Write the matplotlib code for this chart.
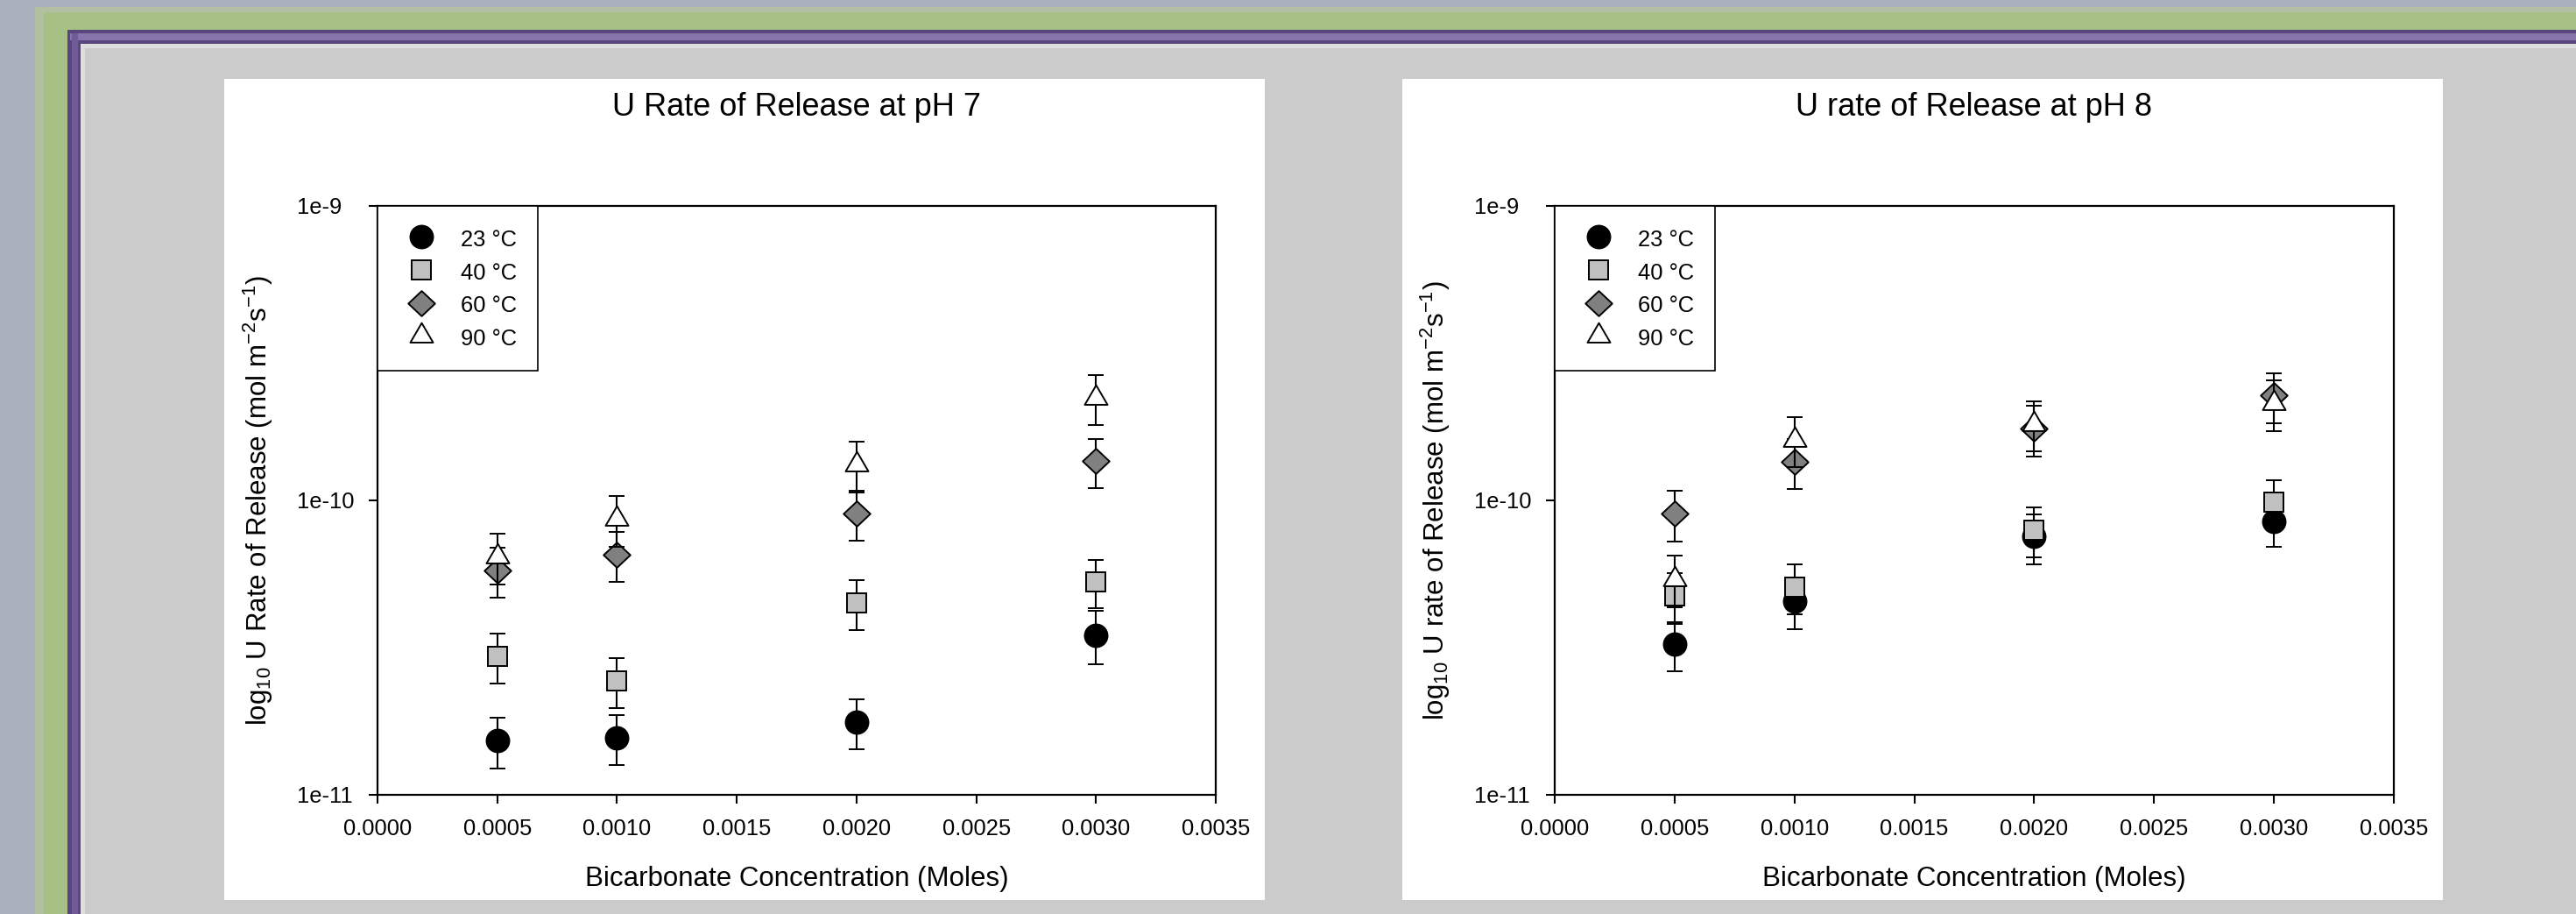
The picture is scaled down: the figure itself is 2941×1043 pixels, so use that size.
import matplotlib
matplotlib.use('Agg')
import matplotlib.pyplot as plt
from matplotlib.patches import Rectangle
from matplotlib.path import Path
from matplotlib.ticker import NullLocator

plt.rcParams['font.family'] = ['Liberation Sans', 'DejaVu Sans']
plt.rcParams['mathtext.fontset'] = 'custom'
plt.rcParams['mathtext.rm'] = 'Liberation Sans'
plt.rcParams['mathtext.it'] = 'Liberation Sans:italic'
plt.rcParams['mathtext.default'] = 'regular'

# ---------------- data ----------------
conc = [0.0005, 0.0010, 0.0020, 0.0030]
temps = ['23 \u00b0C', '40 \u00b0C', '60 \u00b0C', '90 \u00b0C']

ph7_23 = [1.53e-11, 1.565e-11, 1.767e-11, 3.49e-11]
ph7_23_err = [0.30e-11, 0.30e-11, 0.34e-11, 0.72e-11]
ph7_40 = [2.96e-11, 2.44e-11, 4.49e-11, 5.29e-11]
ph7_40_err = [0.57e-11, 0.47e-11, 0.86e-11, 1.00e-11]
ph7_60 = [5.78e-11, 6.55e-11, 9.04e-11, 1.357e-10]
ph7_60_err = [1.12e-11, 1.27e-11, 1.72e-11, 0.26e-10]
ph7_90 = [6.44e-11, 8.66e-11, 1.32e-10, 2.236e-10]
ph7_90_err = [1.25e-11, 1.69e-11, 0.26e-10, 0.433e-10]

ph8_23 = [3.25e-11, 4.55e-11, 7.53e-11, 8.48e-11]
ph8_23_err = [0.62e-11, 0.89e-11, 1.46e-11, 1.53e-11]
ph8_40 = [4.74e-11, 5.075e-11, 7.92e-11, 9.88e-11]
ph8_40_err = [0.93e-11, 0.98e-11, 1.53e-11, 1.85e-11]
ph8_60 = [9.02e-11, 1.355e-10, 1.75e-10, 2.27e-10]
ph8_60_err = [1.75e-11, 0.26e-10, 0.34e-10, 0.44e-10]
ph8_90 = [5.41e-11, 1.607e-10, 1.82e-10, 2.14e-10]
ph8_90_err = [1.07e-11, 0.31e-10, 0.35e-10, 0.42e-10]

x_ticks = [0.0, 0.0005, 0.0010, 0.0015, 0.0020, 0.0025, 0.0030, 0.0035]
x_tick_labels = ['0.0000', '0.0005', '0.0010', '0.0015', '0.0020', '0.0025', '0.0030', '0.0035']
y_ticks = [1e-11, 1e-10, 1e-9]
y_tick_labels = ['1e-11', '1e-10', '1e-9']

titles = ['U Rate of Release at pH 7', 'U rate of Release at pH 8']
ylabels = ['log$_{10}$ U Rate of Release (mol m$^{-2}$s$^{-1}$)',
           'log$_{10}$ U rate of Release (mol m$^{-2}$s$^{-1}$)']
xlabel = 'Bicarbonate Concentration (Moles)'

# ---------------- figure ----------------
W, H = 2941, 1043
DPI = 100
fig = plt.figure(figsize=(W / DPI, H / DPI), dpi=DPI)
fig.patch.set_facecolor('#aab0bc')


def rect_px(x0, y0, x1, y1, color, z):
    fig.patches.append(Rectangle((x0 / W, 1 - y1 / H), (x1 - x0) / W, (y1 - y0) / H,
                                 transform=fig.transFigure, facecolor=color,
                                 edgecolor='none', zorder=z))


# slide frame
rect_px(40, 8, W, H, '#b3bfa3', -20)
rect_px(50, 14, W, H, '#a6c085', -19)
rect_px(77, 34, W, H, '#5a467f', -18)
rect_px(80, 38, W, 46, '#8674aa', -17)
rect_px(82, 38, 89, H, '#6f5c98', -17)
rect_px(92, 50, W, H, '#dedede', -16)
rect_px(97, 55, W, H, '#cbcbcb', -15)
# white chart panels
rect_px(256, 90, 1444, 1027, 'white', -14)
rect_px(1601, 90, 2789, 1027, 'white', -14)

# marker shapes (triangle centred on its centroid, as in the original)
tri = Path([(0, 16), (-14, -8), (14, -8), (0, 16)],
           [Path.MOVETO, Path.LINETO, Path.LINETO, Path.CLOSEPOLY])
dia = Path([(0, 0.94), (1, 0), (0, -0.94), (-1, 0), (0, 0.94)],
           [Path.MOVETO, Path.LINETO, Path.LINETO, Path.LINETO, Path.CLOSEPOLY])
styles = [dict(marker='o', ms=18.7, mfc='black'),
          dict(marker='s', ms=15.8, mfc='#c0c0c0'),
          dict(marker=dia, ms=22.0, mfc='#808080'),
          dict(marker=tri, ms=21.4, mfc='white')]

panels = [
    ([ph7_23, ph7_40, ph7_60, ph7_90], [ph7_23_err, ph7_40_err, ph7_60_err, ph7_90_err]),
    ([ph8_23, ph8_40, ph8_60, ph8_90], [ph8_23_err, ph8_40_err, ph8_60_err, ph8_90_err]),
]
axes_px = [(431, 1388), (1775, 2733)]
ytop, ybot = 235, 907

for i, (vals, errs) in enumerate(panels):
    x0, x1 = axes_px[i]
    ax = fig.add_axes([x0 / W, 1 - ybot / H, (x1 - x0) / W, (ybot - ytop) / H])
    ax.set_facecolor('white')
    handles = []
    for k in range(4):
        st = styles[k]
        eb = ax.errorbar(conc, vals[k], yerr=errs[k],
                         linestyle='none', marker=st['marker'], ms=st['ms'],
                         mfc=st['mfc'], mec='black', mew=1.4,
                         ecolor='black', elinewidth=1.5, capsize=6.5, capthick=1.5,
                         zorder=2 + k, label=temps[k])
        handles.append(eb.lines[0])
    ax.set_yscale('log')
    ax.set_xlim(0, 0.0035)
    ax.set_ylim(1e-11, 1e-9)
    ax.set_xticks(x_ticks)
    ax.set_xticklabels(x_tick_labels)
    ax.set_yticks(y_ticks)
    ax.set_yticklabels(y_tick_labels)
    ax.yaxis.set_minor_locator(NullLocator())
    ax.xaxis.set_minor_locator(NullLocator())
    for sp in ax.spines.values():
        sp.set_linewidth(1.6)
        sp.set_color('black')
    ax.tick_params(axis='both', which='major', direction='out', length=7.2, width=1.5,
                   labelsize=18.4, colors='black', top=False, right=False)
    ax.tick_params(axis='x', pad=12)
    ax.tick_params(axis='y', pad=59)
    plt.setp(ax.get_yticklabels(), ha='left')

    ax.set_title(titles[i], fontsize=26, pad=74)
    ax.set_xlabel(xlabel, fontsize=22.5)
    ax.xaxis.set_label_coords(0.5, -0.120)
    ax.set_ylabel(ylabels[i], fontsize=22.5)
    ax.yaxis.set_label_coords(-0.122, 0.5)

    leg = ax.legend(handles, temps, loc='upper left', bbox_to_anchor=(0, 1),
                    borderaxespad=0, frameon=True, fancybox=False, edgecolor='black',
                    framealpha=1, fontsize=18.4, borderpad=0.95, labelspacing=0.43,
                    handlelength=2.0, handleheight=1.2, handletextpad=0.76, numpoints=1)
    leg.get_frame().set_linewidth(1.2)
    leg.set_zorder(10)

fig.savefig('out.png', dpi=DPI, facecolor=fig.get_facecolor())
